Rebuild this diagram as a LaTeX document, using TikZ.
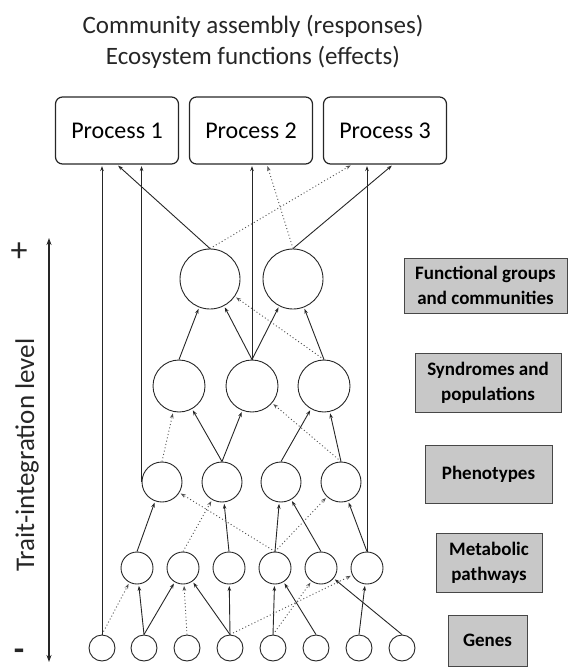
\documentclass[tikz,border=0pt]{standalone}
\usepackage{fontspec}
\setmainfont{Carlito}
\definecolor{tGray}{HTML}{C8C8C8}
\definecolor{tDark}{HTML}{262626}
\usetikzlibrary{arrows.meta}

\begin{document}
\begin{tikzpicture}[x=1pt, y=-1pt,
  proc/.style={draw=tDark, line width=1.2pt, rounded corners=7pt,
    minimum width=123pt, minimum height=67pt, font=\fontsize{24}{29}\selectfont},
  lvl/.style={draw=tDark!85, line width=0.9pt, fill=tGray, align=center,
    inner sep=0pt, font=\fontsize{19}{25}\selectfont\bfseries},
  nd/.style={circle, draw=tDark, line width=0.9pt, inner sep=0pt},
  sol/.style={-{Stealth[length=5pt, width=3.6pt]}, draw=tDark, line width=0.9pt,
    shorten >=1.5pt},
  dot/.style={sol, draw=tDark!80, dash pattern=on 1pt off 2.4pt}]
  \useasboundingbox (0,0) rectangle (570,669);
  \node[font=\fontsize{25}{31}\selectfont, align=center, text=tDark] (ttl) at (253,42)
    {Community assembly (responses)\\Ecosystem functions (effects)};
  \node[proc] (p1) at (117,130.5) {Process 1};
  \node[proc] (p2) at (251,130.5) {Process 2};
  \node[proc] (p3) at (385,130.5) {Process 3};
  % levels, top to bottom
  \foreach \x [count=\i] in {210,293}
    \node[nd, minimum size=60pt] (fg\i) at (\x,279) {};
  \foreach \x [count=\i] in {179,252,324}
    \node[nd, minimum size=52pt] (s\i) at (\x,386) {};
  \foreach \x [count=\i] in {162,222,281,341}
    \node[nd, minimum size=40pt] (ph\i) at (\x,482) {};
  \foreach \x [count=\i] in {137,183,229,275,321,367}
    \node[nd, minimum size=32pt] (m\i) at (\x,568) {};
  \foreach \x [count=\i] in {102,144,187,230,273,316,359,402}
    \node[nd, minimum size=26pt] (g\i) at (\x,648) {};
  % links between levels
  \foreach \a/\b in {g2/m1, g2/m2, g4/m2, g4/m3, g5/m4, g6/m4, g8/m5, g7/m6,
      m1/ph1, m3/ph2, m4/ph3, m5/ph3, m6/ph4,
      ph2/s1, ph2/s2, ph3/s3, ph4/s3,
      s1/fg1, s2/fg1, s2/fg2, s3/fg2}
    \draw[sol] (\a.north) -- (\b);
  \foreach \a/\b in {g1/m1, g3/m2, g5/m5, g4/m6,
      m4/ph1, m2/ph2, m4/ph4,
      ph1/s1, ph4/s2, s3/fg1}
    \draw[dot] (\a.north) -- (\b);
  % links into the processes
  \draw[sol] (g1.north) -- (g1.north |- p1.south);
  \draw[sol] (ph1.west) -- (ph1.west |- p1.south);
  \draw[sol] (fg1.north) -- (p1.south);
  \draw[sol] (s2.north) -- (s2.north |- p2.south);
  \draw[dot] (fg2.north) -- ([xshift=16pt]p2.south);
  \draw[dot] (fg1.north) -- ([xshift=-33pt]p3.south);
  \draw[sol] (fg2.north) -- ([xshift=8pt]p3.south);
  \draw[sol] (m6.north) -- (m6.north |- p3.south);
  % level names
  \node[lvl, minimum width=163pt, minimum height=55pt] (lfg) at (485.5,285.5)
    {Functional groups\\and communities};
  \node[lvl, minimum width=146pt, minimum height=59pt] (ls) at (488,382.5)
    {Syndromes and\\populations};
  \node[lvl, minimum width=127pt, minimum height=58pt] (lph) at (488.5,474) {Phenotypes};
  \node[lvl, minimum width=106pt, minimum height=59pt] (lm) at (489,562.5)
    {Metabolic\\pathways};
  \node[lvl, minimum width=79pt, minimum height=51pt] (lg) at (487.5,640.5) {Genes};
  % axis
  \coordinate (axTop) at (49,238);
  \coordinate (axBot) at (49,662);
  \draw[{Stealth[length=7pt, width=5pt]}-{Stealth[length=7pt, width=5pt]},
    line width=1.4pt, tDark] (axBot) -- (axTop);
  \node[font=\fontsize{34}{40}\selectfont, text=tDark] (plus) at (19,252) {+};
  \node[font=\fontsize{34}{40}\selectfont\bfseries, text=tDark] (minus) at (19,655) {-};
  \node[rotate=90, font=\fontsize{27}{32}\selectfont, text=tDark] (axlbl) at (27,455)
    {Trait-integration level};
\end{tikzpicture}
\end{document}
